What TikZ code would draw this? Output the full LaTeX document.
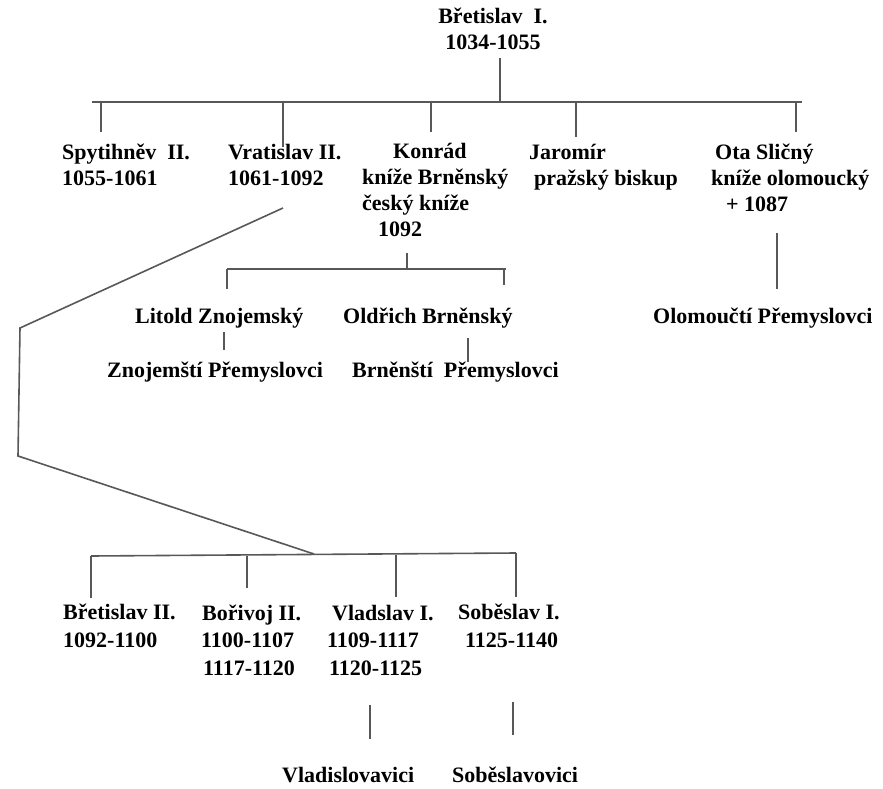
\documentclass[tikz,border=0pt]{standalone}
\usepackage{fontspec}
\setmainfont{Liberation Serif}
\definecolor{linegray}{HTML}{585858}
\tikzset{
  lbl/.style={inner sep=0pt, font=\fontsize{22}{26}\selectfont\bfseries, align=left, anchor=base west},
  lblb/.style={lbl, font=\fontsize{22}{27.5}\selectfont\bfseries},
  ln/.style={draw=linegray, line width=1.6pt}
}
\begin{document}
\begin{tikzpicture}[x=1pt,y=-1pt]
\useasboundingbox[fill=white] (0,0) rectangle (883,789);
% text nodes (base anchor = baseline of the last line)
\node[lbl, align=center, anchor=base] (top) at (493,50) {Břetislav\ \ I.\\1034-1055};
\node[lbl] (spyt) at (62,185) {Spytihněv\ \ II.\\1055-1061};
\node[lbl] (vrat) at (228,185) {Vratislav II.\\1061-1092};
\node[lbl] (konr) at (362,236) {\hspace*{31pt}Konrád\\kníže Brněnský\\český kníže\\\hspace*{16pt}1092};
\node[lbl] (jaro) at (529,185) {Jaromír\\\hspace*{5pt}pražský biskup};
\node[lbl] (ota) at (711,211) {\hspace*{4pt}Ota Sličný\\kníže olomoucký\\\hspace*{15pt}+ 1087};
\node[lbl] (lito) at (135,323) {Litold Znojemský};
\node[lbl] (oldr) at (343,323) {Oldřich Brněnský};
\node[lbl] (olom) at (653,323) {Olomoučtí Přemyslovci};
\node[lbl] (znoj) at (107,377) {Znojemští Přemyslovci};
\node[lbl] (brno) at (352,377) {Brněnští\ \ Přemyslovci};
\node[lblb] (bre2) at (63,647) {Břetislav II.\\1092-1100};
\node[lblb] (bori) at (201,675) {\hspace*{1pt}Bořivoj II.\\1100-1107\\\hspace*{2pt}1117-1120};
\node[lblb] (vlad) at (327,675) {\hspace*{5pt}Vladslav I.\\1109-1117\\\hspace*{2pt}1120-1125};
\node[lblb] (sobe) at (458,647) {Soběslav I.\\\hspace*{7pt}1125-1140};
\node[lbl] (vlvi) at (282,782) {Vladislovavici};
\node[lbl] (sovi) at (452,782) {Soběslavovici};
% joints
\coordinate (t0) at (500,58);
\coordinate (t1) at (500,102);
\coordinate (bl) at (92,102);
\coordinate (br) at (802,102);
\coordinate (d1) at (101,102); \coordinate (e1) at (101,132);
\coordinate (d2) at (283,102); \coordinate (e2) at (283,147);
\coordinate (d3) at (431,102); \coordinate (e3) at (431,132);
\coordinate (d4) at (576,102); \coordinate (e4) at (576,137);
\coordinate (d5) at (796,102); \coordinate (e5) at (796,132);
\coordinate (v0) at (283,208);
\coordinate (v1) at (20,328);
\coordinate (v2) at (18,456);
\coordinate (v3) at (314,554);
\coordinate (gl) at (91,556);
\coordinate (gr) at (516,553);
\coordinate (g1) at (91,598);
\coordinate (h2) at (247,555.5); \coordinate (g2) at (247,588);
\coordinate (h3) at (396,554.5); \coordinate (g3) at (396,597);
\coordinate (g4) at (516,597);
\coordinate (k0) at (407,253); \coordinate (k1) at (407,269);
\coordinate (kl) at (227,269); \coordinate (kr) at (506,269);
\coordinate (kl2) at (227,289); \coordinate (kr2) at (504,269); \coordinate (kr3) at (504,285);
\coordinate (o0) at (777,233); \coordinate (o1) at (777,289);
\coordinate (l0) at (224,332); \coordinate (l1) at (224,350);
\coordinate (r0) at (468,338); \coordinate (r1) at (468,362);
\coordinate (w0) at (370,705); \coordinate (w1) at (370,739);
\coordinate (s0) at (513,702); \coordinate (s1) at (513,735);
% connectors
\draw[ln] (t0) -- (t1);
\draw[ln] (bl) -- (br);
\draw[ln] (d1) -- (e1);
\draw[ln] (d2) -- (e2);
\draw[ln] (d3) -- (e3);
\draw[ln] (d4) -- (e4);
\draw[ln] (d5) -- (e5);
\draw[ln, line join=miter] (v0) -- (v1) -- (v2) -- (v3);
\draw[ln] (gl) -- (gr);
\draw[ln] (gl) -- (g1);
\draw[ln] (h2) -- (g2);
\draw[ln] (h3) -- (g3);
\draw[ln] (gr) -- (g4);
\draw[ln] (k0) -- (k1);
\draw[ln] (kl) -- (kr);
\draw[ln] (kl) -- (kl2);
\draw[ln] (kr2) -- (kr3);
\draw[ln] (o0) -- (o1);
\draw[ln] (l0) -- (l1);
\draw[ln] (r0) -- (r1);
\draw[ln] (w0) -- (w1);
\draw[ln] (s0) -- (s1);
\end{tikzpicture}
\end{document}
